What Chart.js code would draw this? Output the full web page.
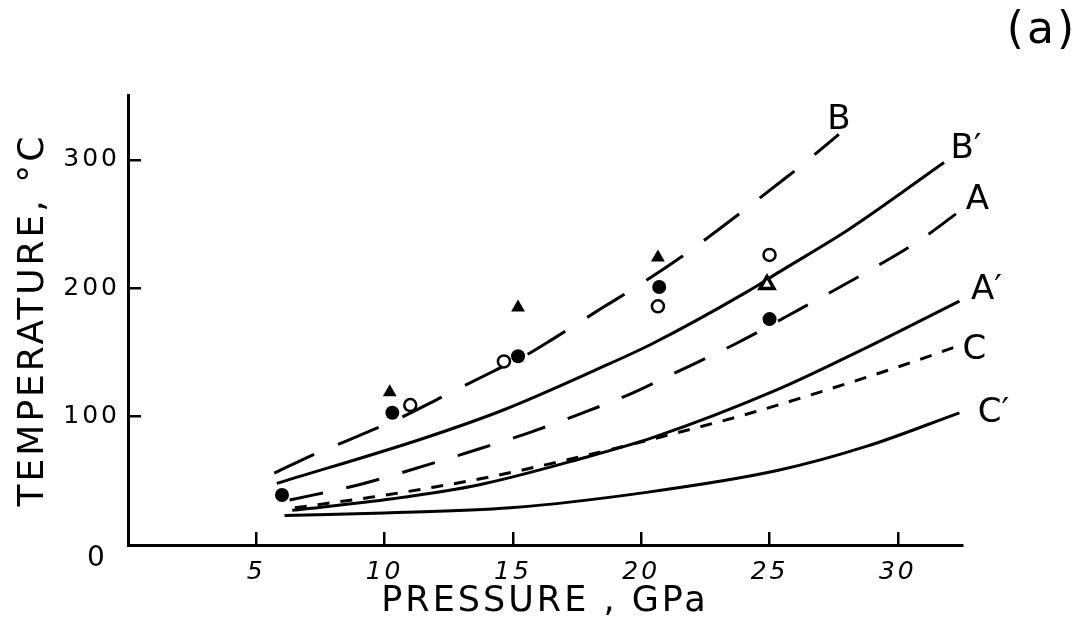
<!DOCTYPE html>
<html>
<head>
<meta charset="utf-8">
<script src="https://cdn.jsdelivr.net/npm/chart.js@4/dist/chart.umd.min.js"></script>
<style>
  html, body { margin: 0; background: #fff; }
  #wrap { width: 1086px; height: 643px; position: relative; }
</style>
</head>
<body>
<div id="wrap"><canvas id="chart"></canvas></div>
<script>
// [pressure GPa, temperature °C] along each curve
const curveB  = [[5.7, 56], [7.4, 72], [8.5, 81], [9.8, 92], [10.5, 98], [12.4, 117], [14.2, 135], [15.7, 150], [16.6, 161], [18.5, 185], [19.8, 201], [21.6, 225], [22.9, 244], [25.5, 284], [26.2, 295], [27.7, 320]];
const curveB2 = [[5.8, 48], [11.5, 83], [14.6, 105], [18.4, 138], [20.35, 156], [24.1, 197], [25.4, 213], [28.1, 246], [31.8, 298]];
const curveA  = [[6.3, 35], [9.0, 47], [11.6, 62], [13.7, 75], [15.7, 88], [17.6, 102], [19.5, 117], [21.2, 133], [23.7, 157], [26.2, 184], [28.9, 214], [30.9, 238], [32.4, 260]];
const curveA2 = [[6.4, 27], [10.3, 36], [13.7, 47], [17.6, 67], [20.5, 84], [25.3, 121], [28.8, 154], [32.4, 190]];
const curveC  = [[6.5, 29], [9.4, 37], [11.9, 45], [14.1, 53], [16.6, 64], [17.9, 70], [21.7, 89], [24.3, 103], [27.1, 120], [29.9, 138], [32.2, 154]];
const curveC2 = [[6.1, 23], [10.0, 25], [14.9, 29], [20.2, 41], [25.3, 58], [28.8, 77], [32.4, 103]];
const curveNames = ['B', 'B\u2032', 'A', 'A\u2032', 'C', 'C\u2032'];

// measured points
const filledCircles = [[6.0, 39], [10.3, 103], [15.2, 147], [20.7, 201], [25.0, 176]];
const openCircles   = [[11.0, 109], [14.65, 143], [20.65, 186], [25.0, 226]];
const filledTris    = [[10.2, 119], [15.2, 185], [20.65, 224]];
const openTris      = [[24.9, 203]];

const xTicks = [5, 10, 15, 20, 25, 30];
const yTicks = [100, 200, 300];

const FONT = "'DejaVu Sans', sans-serif";
const toXY = pts => pts.map(([x, y]) => ({ x, y }));

const curve = (pts, dash) => ({
  type: 'line',
  data: toXY(pts),
  showLine: true,
  borderColor: '#000',
  borderWidth: 3,
  borderDash: dash,
  pointRadius: 0,
  cubicInterpolationMode: 'monotone',
  fill: false
});

const marks = (pts, style, r, fillCol, bw) => ({
  data: toXY(pts),
  showLine: false,
  pointStyle: style,
  pointRadius: r,
  pointBackgroundColor: fillCol,
  pointBorderColor: '#000',
  pointBorderWidth: bw
});

// curve letters, "(a)" and the origin "0"
const annotate = {
  id: 'annotate',
  beforeDraw(chart) {
    chart.ctx.letterSpacing = '3px';
  },
  afterDraw(chart) {
    const { ctx, scales: { x, y } } = chart;
    const ends = [curveB, curveB2, curveA, curveA2, curveC, curveC2].map(c => c[c.length - 1]);
    const offs = [[0, -14], [22, -13], [18, -11], [27, -11], [20, 3], [34, 0]];
    ctx.save();
    ctx.letterSpacing = '0px';
    ctx.fillStyle = '#000';
    ctx.textAlign = 'center';
    ctx.textBaseline = 'middle';
    ctx.font = `34px ${FONT}`;
    ends.forEach(([px, py], i) => {
      ctx.fillText(curveNames[i], x.getPixelForValue(px) + offs[i][0], y.getPixelForValue(py) + offs[i][1]);
    });
    ctx.font = `28px ${FONT}`;
    ctx.fillText('0', x.getPixelForValue(0) - 32, y.getPixelForValue(0) + 14);
    ctx.font = `44px ${FONT}`;
    ctx.letterSpacing = '3px';
    ctx.fillText('(a)', 1042, 32);
    ctx.restore();
  }
};

new Chart(document.getElementById('chart'), {
  type: 'scatter',
  data: {
    datasets: [
      marks(filledCircles, 'circle', 7, '#000', 0),
      marks(openCircles, 'circle', 6, '#fff', 2.5),
      marks(filledTris, 'triangle', 8, '#000', 0),
      marks(openTris, 'triangle', 8, '#fff', 3.5),
      curve(curveB, [44, 26]),
      curve(curveB2, []),
      curve(curveA, [34, 24]),
      curve(curveA2, []),
      curve(curveC, [12, 11]),
      curve(curveC2, [])
    ]
  },
  options: {
    responsive: true,
    maintainAspectRatio: false,
    animation: false,
    layout: { padding: { top: 95, right: 124, left: 0, bottom: 0 } },
    plugins: { legend: { display: false }, tooltip: { enabled: false } },
    scales: {
      x: {
        type: 'linear',
        min: 0,
        max: 32.5,
        afterBuildTicks: s => { s.ticks = xTicks.map(v => ({ value: v })); },
        afterFit: s => { s.height = 98; },
        grid: { drawOnChartArea: false, drawTicks: true, tickLength: -13, color: '#000', lineWidth: 2.5 },
        border: { display: true, color: '#000', width: 3 },
        ticks: {
          autoSkip: false, maxRotation: 0, padding: 25, color: '#000',
          font: { family: FONT, size: 25, style: 'italic' }
        },
        title: {
          display: true, text: 'PRESSURE , GPa', color: '#000',
          font: { family: FONT, size: 35 }, padding: { top: 0, bottom: 20 }
        }
      },
      y: {
        type: 'linear',
        min: 0,
        max: 350.6,
        afterBuildTicks: s => { s.ticks = yTicks.map(v => ({ value: v })); },
        afterFit: s => { s.width = 128; },
        grid: { drawOnChartArea: false, drawTicks: true, tickLength: -13, color: '#000', lineWidth: 2.5 },
        border: { display: true, color: '#000', width: 3 },
        ticks: {
          autoSkip: false, padding: 21, color: '#000',
          font: { family: FONT, size: 25 }
        },
        title: {
          display: true, text: 'TEMPERATURE, °C', color: '#000',
          font: { family: FONT, size: 36 }, padding: { top: 12, bottom: 0 }
        }
      }
    }
  },
  plugins: [annotate]
});
</script>
</body>
</html>
